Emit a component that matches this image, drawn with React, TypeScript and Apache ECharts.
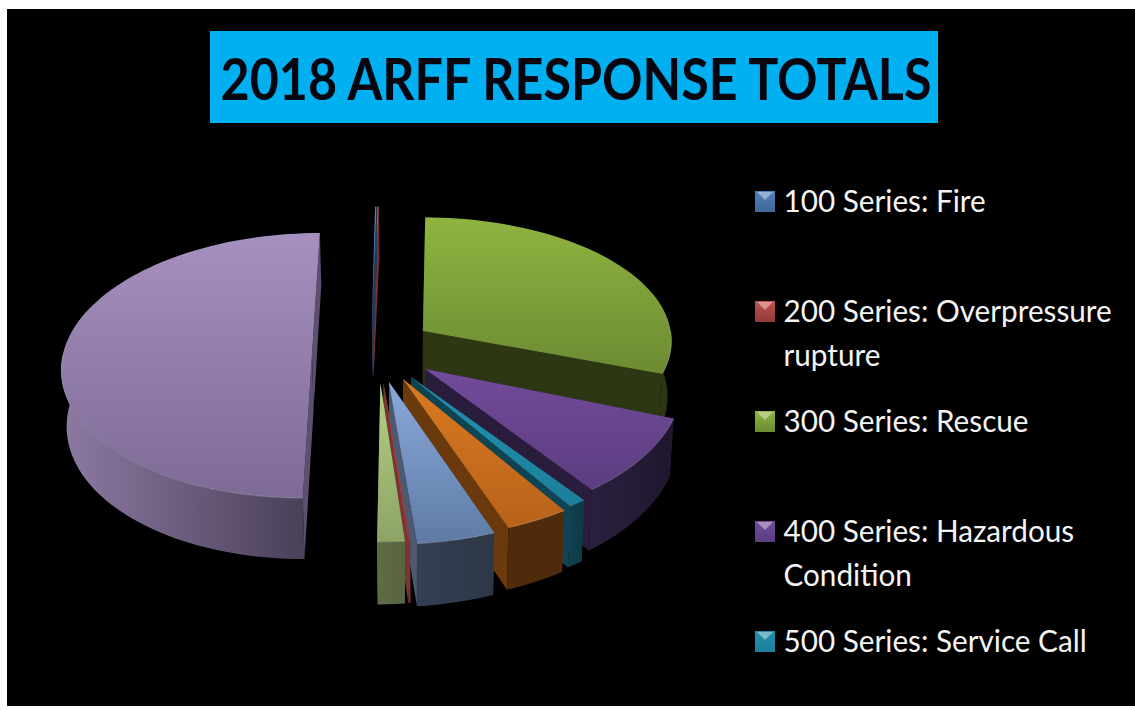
import React, { useEffect, useRef } from "react";
import * as echarts from "echarts";

const TITLE = "2018 ARFF RESPONSE TOTALS";
const CATEGORIES = [
  "100 Series: Fire",
  "200 Series: Overpressure rupture",
  "300 Series: Rescue",
  "400 Series: Hazardous Condition",
  "500 Series: Service Call",
  "600 Series: Good Intent",
  "700 Series: False Alarm",
  "800 Series: Severe Weather",
  "900 Series: Special Incident",
  "Other",
];
const VALUES = [0.1, 0.1, 30.35, 9.17, 0.97, 3.47, 4.22, 0.11, 1.5, 50];

// Styles and layout, per slice
const TOP_A = ["#4f81bd", "#c0504d", "#8fb440", "#724b9b", "#2290ae", "#d97a22", "#8aa9da", "#c0504d", "#b6d184", "#a690bf"];
const TOP_B = ["#3f6797", "#8f3a38", "#6c8b33", "#5b3d80", "#1c7f9b", "#b8621a", "#5f7aa5", "#8f3a38", "#8da366", "#7d6b95"];
const INNER = ["#23395a", "#7a2f2d", "#2e3713", "#2a1d3c", "#0f4553", "#6a3a0c", "#4b5a72", "#7a3432", "#5f6c48", "#5c4f70"];
const WALL_A = ["#23395a", "#7a2f2d", "#2e3713", "#2c1f40", "#0f4250", "#4f2b0b", "#333f53", "#7a3432", "#5f6c48", "#8c7aa3"];
const WALL_B = ["#23395a", "#7a2f2d", "#2e3713", "#1f172d", "#0c3a47", "#4f2b0b", "#2d3747", "#7a3432", "#58643f", "#4a4058"];
const TIP_X = [-44, -43, 8, 9.9, -3.9, -11.8, -25.6, -31, -34, -103];
const TIP_Y = [0.24, 0.24, 0.182, -0.108, -0.168, -0.183, -0.205, -0.21, -0.213, 0];
const RADIUS_X = [1, 1, 1.01, 1.02, 1.06, 1.075, 1.085, 1.06, 1.06, 1];
const RADIUS_Y = [1, 1, 0.96, 1.05, 1.06, 1.075, 1.085, 1.06, 1.06, 1];
// drawing order: the blue sliver lies over the red one
const STACK = [3, 2, 4, 5, 6, 7, 8, 9, 10, 0];

const LEGEND_ROWS = [
  { index: 0, lines: ["100 Series: Fire"], y: 200 },
  { index: 1, lines: ["200 Series: Overpressure", "rupture"], y: 310 },
  { index: 2, lines: ["300 Series: Rescue"], y: 420 },
  { index: 3, lines: ["400 Series: Hazardous", "Condition"], y: 530 },
  { index: 4, lines: ["500 Series: Service Call"], y: 640 },
];

const CX = 415, CY = 354.6, T = 131.6, D = 12.1, R = 249, H = 56, BOTTOM_SCALE = 0.985;
const START_DEG = 0;

const project = (X: number, Y: number, low: boolean): number[] => {
  const s = 1 / (1 + Y / D);
  const k = low ? BOTTOM_SCALE : 1;
  return [CX + X * s * k, CY - T * Y * s + (low ? H * s : 0)];
};

const total = VALUES.reduce((a, b) => a + b, 0);
const angleBefore = (i: number) =>
  START_DEG + (VALUES.slice(0, i).reduce((a, b) => a + b, 0) / total) * 360;

const arcPoints = (i: number, a0: number, a1: number, low: boolean) => {
  const n = Math.max(2, Math.ceil((a1 - a0) / 2));
  const pts: number[][] = [];
  for (let k = 0; k <= n; k++) {
    const a = ((a0 + ((a1 - a0) * k) / n) * Math.PI) / 180;
    pts.push(
      project(
        TIP_X[i] + R * RADIUS_X[i] * Math.sin(a),
        TIP_Y[i] + RADIUS_Y[i] * Math.cos(a),
        low
      )
    );
  }
  return pts;
};

const vGrad = (a: string, b: string) => ({
  type: "linear", x: 0, y: 0, x2: 0, y2: 1,
  colorStops: [{ offset: 0, color: a }, { offset: 1, color: b }],
});
const hGrad = (a: string, b: string) => ({
  type: "linear", x: 0, y: 0, x2: 1, y2: 0,
  colorStops: [{ offset: 0, color: a }, { offset: 1, color: b }],
});

const renderSlice = (params: any, api: any) => {
  const i = params.dataIndex;
  const span = (api.value(0) / total) * 360;
  const a0 = angleBefore(i);
  const a1 = a0 + span;
  const z2 = STACK[i];
  const tipHigh = project(TIP_X[i], TIP_Y[i], false);
  const tipLow = project(TIP_X[i], TIP_Y[i], true);
  const children: any[] = [];
  const poly = (points: number[][], fill: any, order: number) =>
    children.push({
      type: "polygon",
      shape: { points },
      style: { fill, stroke: null },
      z2: z2 * 10 + order,
      silent: true,
    });

  const edge = (angle: number, order: number) => {
    const hi = arcPoints(i, angle, angle, false)[0];
    const lo = arcPoints(i, angle, angle, true)[0];
    poly([tipHigh, hi, lo, tipLow], INNER[i], order);
  };
  edge(a0, 0);
  edge(a1, 1);

  // the outer wall runs a little past the sides so that the silhouette stays smooth
  const w0 = Math.max(a0, 70);
  const w1 = Math.min(a1, 290);
  if (w1 > w0) {
    const hi = arcPoints(i, w0, w1, false);
    const lo = arcPoints(i, w0, w1, true);
    const flip = hi[0][0] > hi[hi.length - 1][0];
    const left = flip ? WALL_A[i] : WALL_B[i];
    const right = flip ? WALL_B[i] : WALL_A[i];
    poly([...hi, ...lo.reverse()], hGrad(i === 9 ? WALL_A[i] : left, i === 9 ? WALL_B[i] : right), 2);
  }
  poly([tipHigh, ...arcPoints(i, a0, a1, false)], vGrad(TOP_A[i], TOP_B[i]), 3);
  const e0 = Math.max(a0, 90);
  const e1 = Math.min(a1, 270);
  if (e1 > e0 && span > 5) {
    children.push({
      type: "polyline",
      shape: { points: arcPoints(i, e0, e1, false) },
      style: { stroke: "rgba(255,255,255,0.22)", lineWidth: 1, fill: null },
      z2: z2 * 10 + 4,
      silent: true,
    });
  }
  return { type: "group", children };
};

const legendGraphics = () => {
  const out: any[] = [];
  LEGEND_ROWS.forEach((row) => {
    const i = row.index;
    const x = 755, w = 20, h = 21, y = row.y - 9;
    out.push({
      type: "rect",
      shape: { x, y, width: w, height: h },
      style: { fill: vGrad(TOP_A[i], TOP_B[i]) },
    });
    out.push({
      type: "polygon",
      shape: { points: [[x + 2, y + 1], [x + w - 2, y + 1], [x + w / 2, y + 9]] },
      style: { fill: "rgba(255,255,255,0.4)" },
    });
    row.lines.forEach((line, k) => {
      out.push({
        type: "text",
        x: 783.5,
        y: row.y + k * 44,
        scaleX: 0.99,
        style: {
          text: line,
          fill: "#f4f4f4",
          font: "400 30px Lato",
          textAlign: "left",
          textVerticalAlign: "middle",
        },
      });
    });
  });
  return out;
};

export default function App() {
  const ref = useRef<HTMLDivElement>(null);
  useEffect(() => {
    const chart = echarts.init(ref.current!, undefined, { renderer: "svg" });
    chart.setOption({
      animation: false,
      backgroundColor: "#ffffff",
      graphic: {
        elements: [
          { type: "rect", shape: { x: 7, y: 9, width: 1128, height: 697 }, style: { fill: "#000000" } },
          { type: "rect", shape: { x: 210, y: 31, width: 728, height: 92 }, style: { fill: "#00b0f0" } },
          {
            type: "text",
            x: 576,
            y: 78,
            scaleX: 0.865,
            style: {
              text: TITLE,
              fill: "#05050f",
              font: "700 58px Lato",
              textAlign: "center",
              textVerticalAlign: "middle",
            },
          },
          ...legendGraphics(),
        ],
      },
      series: [
        {
          type: "custom",
          coordinateSystem: "none",
          renderItem: renderSlice,
          clip: false,
          silent: true,
          data: VALUES.map((value, i) => ({ name: CATEGORIES[i], value })),
        },
      ],
    });
    return () => chart.dispose();
  }, []);
  return (
    <div style={{ position: "fixed", left: 0, top: 0, width: 1135, height: 711, background: "#fff" }}>
      <div ref={ref} style={{ width: 1135, height: 711 }} />
    </div>
  );
}
